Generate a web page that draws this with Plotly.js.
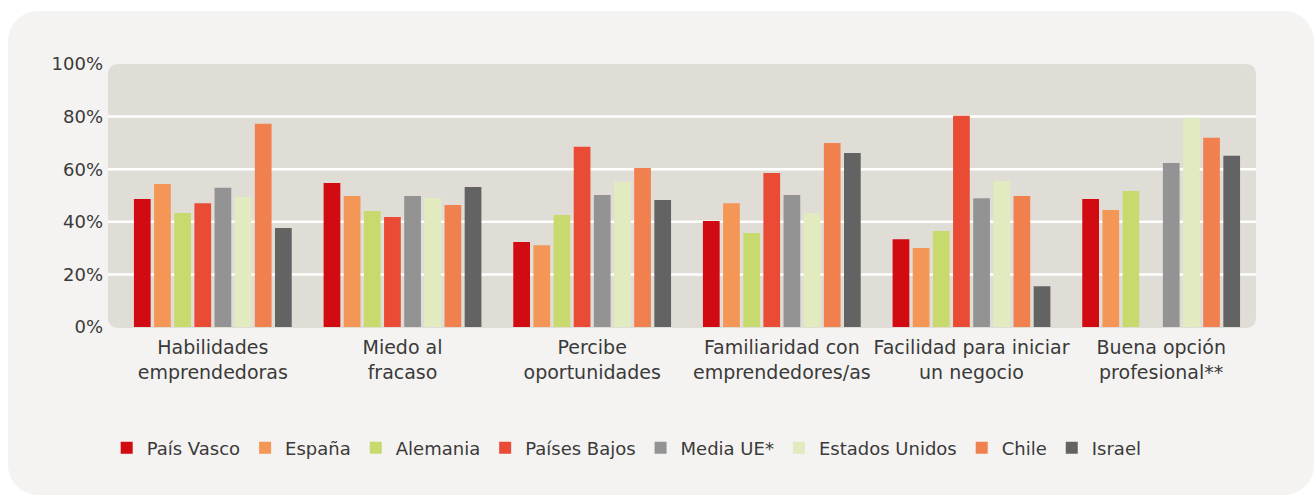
<!DOCTYPE html>
<html>
<head>
<meta charset="utf-8">
<script src="https://cdn.plot.ly/plotly-3.0.1.min.js"></script>
<style>
  html, body { margin: 0; padding: 0; background: #ffffff; }
  #card { position: absolute; left: 8px; top: 11px; width: 1306px; height: 484px;
          background: #f4f3f1; border-radius: 30px; }
  #chart { position: absolute; left: 0; top: 0; width: 1316px; height: 495px; }
</style>
</head>
<body>
<div id="card"></div>
<div id="chart"></div>
<script>
// ---- data ----
const categories = [
  "Habilidades<br>emprendedoras",
  "Miedo al<br>fracaso",
  "Percibe<br>oportunidades",
  "Familiaridad con<br>emprendedores/as",
  "Facilidad para iniciar<br>un negocio",
  "Buena opción<br>profesional**"
];
const seriesNames = ["País Vasco", "España", "Alemania", "Países Bajos", "Media UE*", "Estados Unidos", "Chile", "Israel"];
const paisVasco     = [48.7, 54.8, 32.3, 40.3, 33.4, 48.7];
const espana        = [54.4, 49.8, 31.1, 47.1, 30.0, 44.5];
const alemania      = [43.3, 44.1, 42.6, 35.7, 36.5, 51.7];
const paisesBajos   = [47.1, 41.8, 68.5, 58.6, 80.3, null];
const mediaUE       = [52.9, 49.8, 50.2, 50.2, 49.0, 62.4];
const estadosUnidos = [49.4, 49.0, 55.2, 43.3, 55.5, 79.6];
const chile         = [77.3, 46.4, 60.5, 70.0, 49.8, 72.0];
const israel        = [37.6, 53.2, 48.3, 66.2, 15.5, 65.1];
const yTickValues = [0, 20, 40, 60, 80, 100];
const yTickLabels = ["0%", "20%", "40%", "60%", "80%", "100%"];

// ---- styles ----
const colors = ["#d20a11", "#f39656", "#c8da6e", "#e94b35", "#939393", "#e2ebc0", "#f0804d", "#636363"];
const allValues = [paisVasco, espana, alemania, paisesBajos, mediaUE, estadosUnidos, chile, israel];

const traces = seriesNames.map((name, i) => ({
  type: "bar",
  name: name,
  x: categories,
  y: allValues[i],
  marker: { color: colors[i], line: { width: 0 } },
  hoverinfo: "x+y+name"
}));

// plot geometry in pixels
const W = 1316, H = 495;
const mL = 118, mR = 60, mT = 64, mB = 168;
const pw = W - mL - mR, ph = H - mT - mB;
// rounded background rect (pixels)
const bgL = 108, bgR = 1256, bgT = 64, bgB = 328, rad = 11;
const px = v => (v - mL) / pw;
const py = v => (H - mB - v) / ph;
const rx = rad / pw, ry = rad / ph;
const x0 = px(bgL), x1 = px(bgR), y0 = py(bgB), y1 = py(bgT);
const bgPath = `M ${x0 + rx},${y1} L ${x1 - rx},${y1} Q ${x1},${y1} ${x1},${y1 - ry} ` +
  `L ${x1},${y0 + ry} Q ${x1},${y0} ${x1 - rx},${y0} L ${x0 + rx},${y0} Q ${x0},${y0} ${x0},${y0 + ry} ` +
  `L ${x0},${y1 - ry} Q ${x0},${y1} ${x0 + rx},${y1} Z`;

const shapes = [{
  type: "path", xref: "paper", yref: "paper", path: bgPath,
  fillcolor: "#e0ddd7", line: { width: 0 }, layer: "below"
}];
[20, 40, 60, 80].forEach(v => shapes.push({
  type: "line", xref: "paper", yref: "y", x0: x0, x1: x1, y0: v, y1: v,
  line: { color: "#ffffff", width: 2.5 }, layer: "below"
}));

const textColor = "#3a3a3a";
const font = "DejaVu Sans, sans-serif";

const layout = {
  width: W, height: H,
  margin: { l: mL, r: mR, t: mT, b: mB, pad: 0 },
  paper_bgcolor: "rgba(0,0,0,0)",
  plot_bgcolor: "rgba(0,0,0,0)",
  font: { family: font, color: textColor, size: 18 },
  barmode: "group",
  bargap: 0.15,
  bargroupgap: 0.17,
  showlegend: true,
  legend: {
    orientation: "h",
    x: 0.447, xanchor: "center",
    y: -0.46, yanchor: "middle",
    font: { family: font, size: 18, color: textColor },
    bgcolor: "rgba(0,0,0,0)",
    traceorder: "normal",
    itemclick: false, itemdoubleclick: false
  },
  xaxis: {
    type: "category",
    showgrid: false, zeroline: false, showline: false,
    ticks: "", tickfont: { family: font, size: 19, color: textColor },
    ticklabelstandoff: 7,
    fixedrange: true
  },
  yaxis: {
    range: [0, 100],
    tickvals: yTickValues, ticktext: yTickLabels,
    showgrid: false, zeroline: false, showline: false,
    ticks: "", tickfont: { family: font, size: 18, color: textColor },
    ticklabelstandoff: 14,
    fixedrange: true
  },
  shapes: shapes
};

Plotly.newPlot("chart", traces, layout, { displayModeBar: false, staticPlot: true });
</script>
</body>
</html>
